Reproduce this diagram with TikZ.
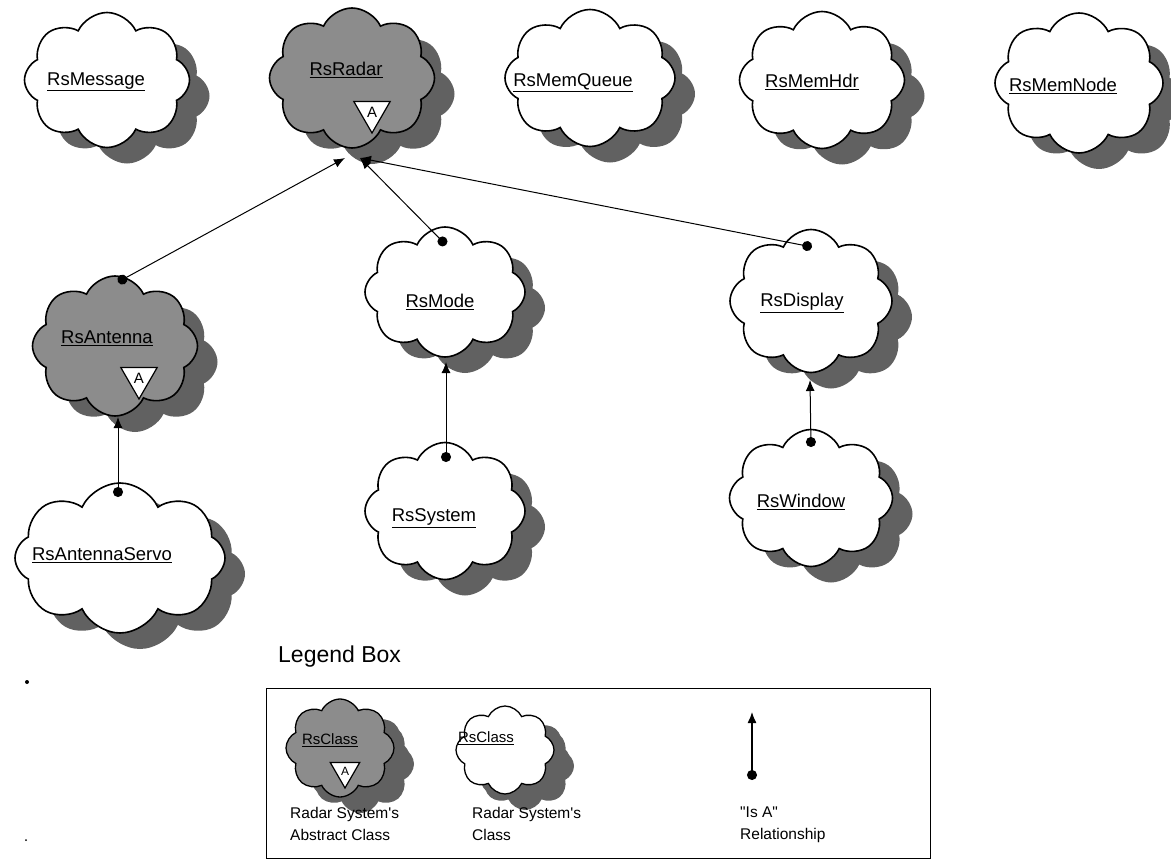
\documentclass[tikz,border=0pt]{standalone}
\usepackage{fontspec}
\setmainfont{Liberation Sans}[Ligatures=TeXOff]
\usetikzlibrary{shapes.symbols,shapes.geometric,shadows,arrows.meta,calc}
\definecolor{shade}{gray}{0.38}
\definecolor{absfill}{gray}{0.55}

\begin{document}
\begin{tikzpicture}[x=1pt,y=-1pt,
  cls/.style={cloud, cloud puffs=8, cloud puff arc=130, cloud ignores aspect,
    draw=black, line width=1.6pt, fill=white, inner sep=0pt,
    drop shadow={shadow xshift=20pt, shadow yshift=-16pt, fill=shade, opacity=1}},
  abscls/.style={cls, fill=absfill},
  smallcls/.style={cls, line width=1.3pt,
    drop shadow={shadow xshift=16pt, shadow yshift=-10pt, fill=shade, opacity=1}},
  clslabel/.style={font=\fontsize{18.5}{20}\selectfont, inner sep=0pt},
  smalllabel/.style={font=\fontsize{15}{17}\selectfont, inner sep=0pt},
  absmark/.style={regular polygon, regular polygon sides=3, shape border rotate=180,
    draw=black, fill=white, line width=1.2pt, inner sep=0pt, minimum size=42pt,
    font=\fontsize{15}{15}\selectfont},
  isa/.style={line width=1pt, {Circle[length=10pt]}-{Latex[length=11pt,width=9pt]}},
  legendtext/.style={font=\fontsize{15.5}{22}\selectfont, align=left, anchor=north west, inner sep=0pt},
]
\useasboundingbox (0,0) rectangle (1171,864);

% ---- top row of classes
\node[cls, minimum width=165pt, minimum height=135pt] (msg) at (107,80) {};
\node[clslabel] (msg-t) at (96,82) {\underline{RsMessage}};

\node[abscls, minimum width=165pt, minimum height=140pt] (radar) at (352,78) {};
\node[clslabel] (radar-t) at (346,70) {\underline{RsRadar}};
\node[absmark] (radar-a) at (372,112) {A};

\node[cls, minimum width=170pt, minimum height=137pt] (memq) at (590,78) {};
\node[clslabel] (memq-t) at (573,83) {\underline{RsMemQueue}};

\node[cls, minimum width=165pt, minimum height=137pt] (memhdr) at (822,80) {};
\node[clslabel] (memhdr-t) at (812,82) {\underline{RsMemHdr}};

\node[cls, minimum width=168pt, minimum height=140pt] (memnode) at (1079,83) {};
\node[clslabel] (memnode-t) at (1063,86) {\underline{RsMemNode}};

% ---- middle row
\node[abscls, minimum width=165pt, minimum height=140pt] (antenna) at (115,346) {};
\node[clslabel] (antenna-t) at (107,338) {\underline{RsAntenna}};
\node[absmark] (antenna-a) at (139,378) {A};

\node[cls, minimum width=160pt, minimum height=130pt] (mode) at (445,292) {};
\node[clslabel] (mode-t) at (440,302) {\underline{RsMode}};

\node[cls, minimum width=162pt, minimum height=143pt] (display) at (811,301) {};
\node[clslabel] (display-t) at (802,303) {\underline{RsDisplay}};

% ---- bottom row
\node[cls, minimum width=210pt, minimum height=150pt] (servo) at (120,558) {};
\node[clslabel] (servo-t) at (102,555) {\underline{RsAntennaServo}};

\node[cls, minimum width=160pt, minimum height=137pt] (system) at (445,511) {};
\node[clslabel] (system-t) at (434,518) {\underline{RsSystem}};

\node[cls, minimum width=163pt, minimum height=137pt] (window) at (811,498) {};
\node[clslabel] (window-t) at (801,502) {\underline{RsWindow}};

% ---- "is a" relationships (dot at the subclass, arrow at the superclass)
\draw[isa] ($(antenna.center)+(3,-64)$) -- ($(radar.center)+(-7,80)$);
\draw[isa] ($(mode.center)+(1,-47)$) -- ($(radar.center)+(8,80)$);
\draw[isa] ($(display.center)+(1,-54)$) -- ($(radar.center)+(8,80)$);
\draw[isa] ($(servo.center)+(-2,-61)$) -- ($(antenna.center)+(3,71)$);
\draw[isa] ($(system.center)+(1,-49)$) -- ($(mode.center)+(1,70)$);
\draw[isa] ($(window.center)+(0,-51)$) -- ($(display.center)+(-1,79)$);

% ---- stray specks
\fill (27,682) circle (2);
\fill (26,840) circle (1);

% ---- legend
\node[font=\fontsize{23}{25}\selectfont, anchor=west, inner sep=0pt] (legend-title) at (278,657) {Legend Box};
\node[draw=black, line width=1.1pt, inner sep=0pt, minimum width=664pt, minimum height=170pt,
  anchor=north west] (legend) at (266,688) {};

\node[smallcls, fill=absfill, minimum width=108pt, minimum height=98pt] (lg-abs) at (340,748) {};
\node[smalllabel] (lg-abs-t) at (330,740) {\underline{RsClass}};
\node[absmark, minimum size=34pt, font=\fontsize{12}{12}\selectfont] (lg-abs-a) at (345,771) {A};
\node[legendtext] (lg-abs-txt) at (290,807) {Radar System's\\Abstract Class};

\node[smallcls, minimum width=98pt, minimum height=88pt] (lg-cls) at (505,750) {};
\node[smalllabel] (lg-cls-t) at (486,738) {\underline{RsClass}};
\node[legendtext] (lg-cls-txt) at (472,807) {Radar System's\\Class};

\coordinate (lg-from) at (752,780);
\coordinate (lg-to) at (752,712);
\draw[isa, line width=1.3pt] (lg-from) -- (lg-to);
\node[legendtext] (lg-isa-txt) at (740,807) {"Is A"\\Relationship};
\end{tikzpicture}
\end{document}
